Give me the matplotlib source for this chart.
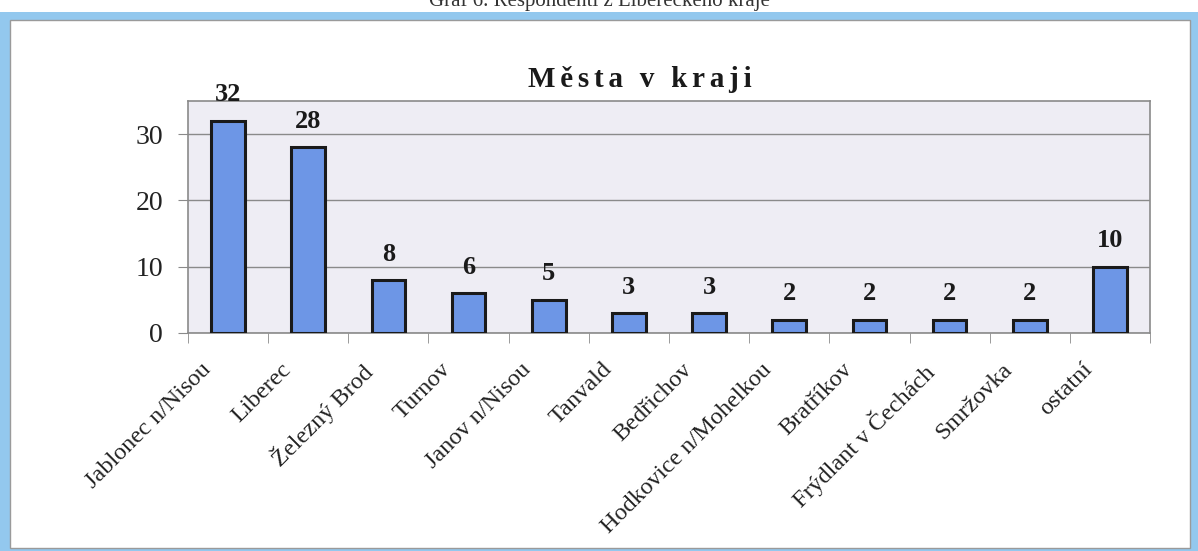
import numpy as np
from matplotlib import pyplot as plt
from matplotlib.patches import Rectangle
from matplotlib import transforms

# data
cities = ['Jablonec n/Nisou', 'Liberec', 'Železný Brod', 'Turnov', 'Janov n/Nisou',
          'Tanvald', 'Bedřichov', 'Hodkovice n/Mohelkou', 'Bratříkov',
          'Frýdlant v Čechách', 'Smržovka', 'ostatní']
counts = [32, 28, 8, 6, 5, 3, 3, 2, 2, 2, 2, 10]
y_ticks = [0, 10, 20, 30]

title = 'Města v kraji'
caption = 'Graf 6. Respondenti z Libereckého kraje'

serif = ['Liberation Serif', 'DejaVu Serif']
W, H = 1198, 551

fig = plt.figure(figsize=(W / 100, H / 100), dpi=100)
fig.patch.set_facecolor('white')

# blue scanned frame + white inner panel (behind the axes)
fig.patches.append(Rectangle((0, 0), 1, 1 - 12 / H, transform=fig.transFigure,
                             facecolor='#93c8ee', edgecolor='none', zorder=-2))
fig.patches.append(Rectangle((10 / W, 3 / H), (1190 - 10) / W, (548 - 20) / H,
                             transform=fig.transFigure, facecolor='white',
                             edgecolor='#9a9a9a', linewidth=1, zorder=-1))

fig.text(0.5, 1 - 6 / H, caption, ha='center', va='baseline', fontsize=15,
         family=serif, color='#333333')

ax = fig.add_axes([188 / W, 1 - 333 / H, (1150 - 188) / W, (333 - 101) / H])
ax.set_facecolor('#eeedf4')

x = np.arange(len(cities))
bars = ax.bar(x, counts, width=0.42, color='#6d96e6', edgecolor='#1a1a1a',
              linewidth=2.2, zorder=3)
for b, v in zip(bars, counts):
    ax.annotate(str(v), (b.get_x() + b.get_width() / 2, v), xytext=(0, 14),
                textcoords='offset points', ha='center', va='baseline',
                fontsize=19, fontweight='bold', family=serif, color='#1a1a1a',
                annotation_clip=False)

ax.set_xlim(-0.5, len(cities) - 0.5)
ax.set_ylim(0, 35)
ax.set_yticks(y_ticks)
ax.set_yticklabels([str(t) for t in y_ticks], fontsize=20, family=serif, color='#222222')
ax.yaxis.grid(True, color='#8a8a8a', linewidth=1, zorder=1)
ax.tick_params(axis='y', length=7, color='#8a8a8a', pad=11)

ax.set_xticks(x)
ax.set_xticklabels([])
ax.set_xticks(np.arange(len(cities) + 1) - 0.5, minor=True)
ax.tick_params(axis='x', which='major', length=0)
ax.tick_params(axis='x', which='minor', length=7, color='#8a8a8a')

# rotated category labels, right end just left of each bar centre
off = transforms.ScaledTranslation(-28 / 100, -26 / 100, fig.dpi_scale_trans)
trans = transforms.blended_transform_factory(ax.transData, ax.transAxes) + off
for xi, name in zip(x, cities):
    ax.text(xi, 0, name, transform=trans, rotation=45, rotation_mode='anchor',
            ha='right', va='top', fontsize=17.5, family=serif, color='#222222')

for s in ax.spines.values():
    s.set_color('#8a8a8a')
    s.set_linewidth(1.2)

spaced = '\u200a\u200a'.join(title)
fig.text(640 / W, 1 - 87 / H, spaced, ha='center', va='baseline', fontsize=21,
         fontweight='bold', family=serif, color='#1a1a1a')

fig.savefig('out.png', dpi=100, facecolor=fig.get_facecolor())
